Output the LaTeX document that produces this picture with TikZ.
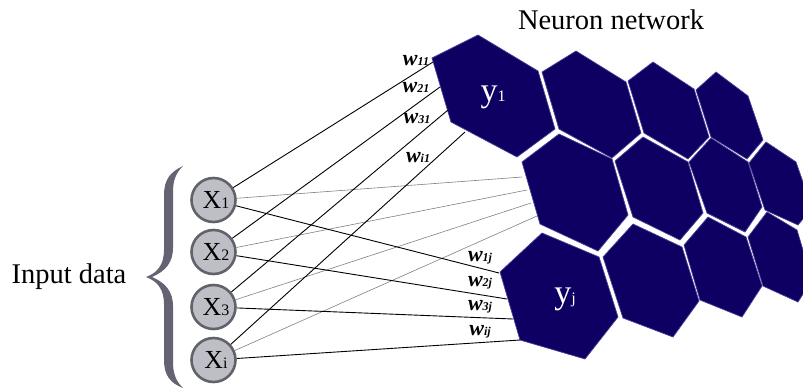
\documentclass[tikz,border=0pt]{standalone}
\usepackage{fontspec}
\setmainfont{Liberation Serif}
\definecolor{navy}{RGB}{13,0,98}
\definecolor{navyedge}{RGB}{72,66,150}
\definecolor{circfill}{RGB}{190,190,198}
\definecolor{circedge}{RGB}{98,98,106}
\definecolor{bracecol}{RGB}{102,98,114}
\begin{document}
\begin{tikzpicture}[x=1pt,y=-1pt,
  hexcell/.style={fill=navy,draw=navyedge,line width=0.7pt},
  inp/.style={circle,fill=circfill,draw=circedge,line width=2.6pt,minimum size=44pt,inner sep=0pt},
  wline/.style={black,line width=0.9pt},
  gline/.style={black!50,line width=0.6pt},
  wlab/.style={inner sep=0pt,font=\fontsize{22}{22}\selectfont\bfseries\itshape},
  ylab/.style={inner sep=0pt,text=white,anchor=base},
  title/.style={inner sep=0pt,font=\fontsize{28.5}{28.5}\selectfont}
]
\useasboundingbox (0,0) rectangle (803,389);
\begin{scope}
\clip (0,0) rectangle (803,389);
% row 1
\draw[hexcell] (478,35) -- (538,71) -- (555,129) -- (517,157) -- (451,122) -- (432,58) -- cycle;
\draw[hexcell] (576,51) -- (626,82) -- (641,133) -- (612,158) -- (559,129) -- (542,72) -- cycle;
\draw[hexcell] (653,62) -- (694,89) -- (709,137) -- (688,159) -- (644,133) -- (628,81) -- cycle;
\draw[hexcell] (716,72) -- (748,96) -- (763,140) -- (747,159) -- (711,137) -- (696,90) -- cycle;
% row 2
\draw[hexcell] (559,134) -- (612,159) -- (628,215) -- (598,251) -- (540,224) -- (522,162) -- cycle;
\draw[hexcell] (643,137) -- (688,162) -- (703,213) -- (680,240) -- (633,217) -- (615,161) -- cycle;
\draw[hexcell] (711,138) -- (748,162) -- (762,207) -- (745,232) -- (707,213) -- (689,162) -- cycle;
\draw[hexcell] (766,142) -- (796,162) -- (812,208) -- (798,225) -- (765,210) -- (749,163) -- cycle;
% row 3
\draw[hexcell] (542,233) -- (599,257) -- (618,317) -- (585,359) -- (520,340) -- (500,272) -- cycle;
\draw[hexcell] (633,224) -- (682,247) -- (699,301) -- (673,337) -- (623,318) -- (603,257) -- cycle;
\draw[hexcell] (708,217) -- (746,237) -- (762,286) -- (742,317) -- (700,300) -- (684,245) -- cycle;
\draw[hexcell] (767,212) -- (797,230) -- (812,280) -- (798,302) -- (763,286) -- (748,237) -- cycle;
\end{scope}

% brace
\fill[bracecol] (183,166) .. controls (170,172) and (164,180) .. (164,195)
  -- (164,250) .. controls (164,265) and (157,273) .. (146,277)
  .. controls (157,281) and (164,289) .. (164,304)
  -- (164,360) .. controls (164,375) and (170,383) .. (183,388)
  .. controls (176,381) and (173,374) .. (173,362)
  -- (173,306) .. controls (173,292) and (166,283) .. (152,277)
  .. controls (166,271) and (173,262) .. (173,248)
  -- (173,192) .. controls (173,180) and (176,173) .. (183,166) -- cycle;

% titles
\node[title] (tnet) at (611,20) {Neuron network};
\node[title] (tin) at (69,277) {Input data};

% input nodes
\node[inp] (x1) at (213.5,200) {};
\node[inp] (x2) at (213.5,252) {};
\node[inp] (x3) at (213.5,307) {};
\node[inp] (xi) at (213.5,360) {};
\node[anchor=base,inner sep=0pt] (lx1) at (216,208) {{\fontsize{26}{26}\selectfont X}{\fontsize{16}{16}\selectfont 1}};
\node[anchor=base,inner sep=0pt] (lx2) at (216,260) {{\fontsize{26}{26}\selectfont X}{\fontsize{16}{16}\selectfont 2}};
\node[anchor=base,inner sep=0pt] (lx3) at (216,315) {{\fontsize{26}{26}\selectfont X}{\fontsize{16}{16}\selectfont 3}};
\node[anchor=base,inner sep=0pt] (lxi) at (216,368) {{\fontsize{26}{26}\selectfont X}{\fontsize{16}{16}\selectfont i}};

% end points on hexagons
\coordinate (a1) at (433,62);
\coordinate (a2) at (440,87);
\coordinate (a3) at (448,110);
\coordinate (a4) at (465,132);
\coordinate (g1) at (522,177);
\coordinate (g2) at (527,190);
\coordinate (g3) at (531,203);
\coordinate (g4) at (537,216);
\coordinate (b1) at (499,273);
\coordinate (b2) at (507,299);
\coordinate (b3) at (513,319);
\coordinate (b4) at (520,340);

% connectors
\draw[gline] (x1) -- (g1);
\draw[gline] (x2) -- (g2);
\draw[gline] (x3) -- (g3);
\draw[gline] (xi) -- (g4);
\draw[wline] (x1) -- (a1);
\draw[wline] (x2) -- (a2);
\draw[wline] (x3) -- (a3);
\draw[wline] (xi) -- (a4);
\draw[wline] (x1) -- (b1);
\draw[wline] (x2) -- (b2);
\draw[wline] (x3) -- (b3);
\draw[wline] (xi) -- (b4);

% weight labels
\node[wlab] (w11) at (416,61) {w{\fontsize{12}{12}\selectfont 11}};
\node[wlab] (w21) at (416,88) {w{\fontsize{12}{12}\selectfont 21}};
\node[wlab] (w31) at (417,119) {w{\fontsize{12}{12}\selectfont 31}};
\node[wlab] (wi1) at (418,158) {w{\fontsize{12}{12}\selectfont i1}};
\node[wlab] (w1j) at (480,258) {w{\fontsize{12}{12}\selectfont 1j}};
\node[wlab] (w2j) at (480,283) {w{\fontsize{12}{12}\selectfont 2j}};
\node[wlab] (w3j) at (480,307) {w{\fontsize{12}{12}\selectfont 3j}};
\node[wlab] (wij) at (480,332) {w{\fontsize{12}{12}\selectfont ij}};

% output labels
\node[ylab] (y1) at (493,101) {{\fontsize{34}{34}\selectfont y}{\fontsize{16}{16}\selectfont 1}};
\node[ylab] (yj) at (565,303) {{\fontsize{34}{34}\selectfont y}{\fontsize{16}{16}\selectfont j}};
\end{tikzpicture}
\end{document}
